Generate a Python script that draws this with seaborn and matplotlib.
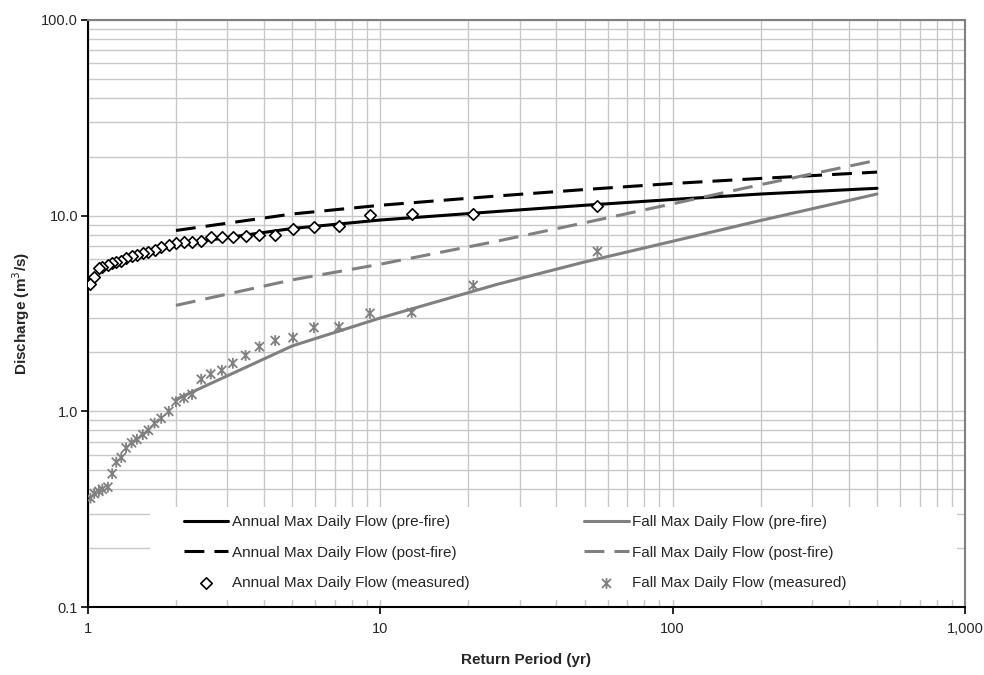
import matplotlib

matplotlib.use("Agg")
import matplotlib.pyplot as plt
import seaborn as sns
from matplotlib.path import Path
from matplotlib.patches import Rectangle
from matplotlib.ticker import FixedLocator, FixedFormatter, LogLocator, NullFormatter

# return periods of the fitted curves (yr)
rp = [2, 5, 10, 25, 50, 100, 200, 500]
annual_pre = [7.1, 8.6, 9.5, 10.5, 11.3, 12.1, 12.9, 13.8]
annual_post = [8.4, 10.2, 11.3, 12.6, 13.6, 14.6, 15.5, 16.7]
fall_pre = [1.15, 2.16, 3.0, 4.45, 5.8, 7.4, 9.45, 12.9]
fall_post = [3.48, 4.7, 5.65, 7.4, 9.2, 11.5, 14.4, 19.2]

# measured (plotting positions, yr)
meas_T = [55.3, 20.8, 12.8, 9.22, 7.22, 5.93, 5.03, 4.37, 3.86, 3.46, 3.13,
          2.87, 2.63, 2.44, 2.27, 2.13, 2.00, 1.89, 1.78, 1.69, 1.61, 1.54,
          1.47, 1.41, 1.35, 1.30, 1.25, 1.21, 1.17, 1.12, 1.09, 1.05, 1.02]
annual_meas = [11.2, 10.2, 10.2, 10.1, 8.9, 8.8, 8.5, 8.0, 8.0, 7.9, 7.8,
               7.75, 7.8, 7.4, 7.3, 7.3, 7.25, 7.1, 6.9, 6.7, 6.55, 6.45,
               6.3, 6.2, 6.05, 5.88, 5.77, 5.7, 5.6, 5.47, 5.4, 4.85, 4.47]
fall_meas = [6.56, 4.4, 3.2, 3.17, 2.7, 2.68, 2.38, 2.3, 2.14, 1.93, 1.76,
             1.62, 1.55, 1.46, 1.22, 1.17, 1.12, 1.0, 0.92, 0.87, 0.80, 0.76,
             0.72, 0.69, 0.65, 0.58, 0.55, 0.48, 0.41, 0.40, 0.39, 0.38, 0.36]

xticks = [1, 10, 100, 1000]
xticklabels = ["1", "10", "100", "1,000"]
yticks = [0.1, 1, 10, 100]
yticklabels = ["0.1", "1.0", "10.0", "100.0"]

BLACK = "#000000"
GRAY = "#808080"
FONT = ["Liberation Sans", "DejaVu Sans"]

sns.set_style("white")
plt.rcParams["font.family"] = FONT

# excel-style star: X plus a vertical bar
star = Path([(-1, -1), (1, 1), (-1, 1), (1, -1), (0, -1.2), (0, 1.2)],
            [Path.MOVETO, Path.LINETO, Path.MOVETO, Path.LINETO, Path.MOVETO, Path.LINETO])

fig, ax = plt.subplots(figsize=(9.84, 6.75), dpi=100)
fig.subplots_adjust(left=0.0894, right=0.9807, top=0.9704, bottom=0.1007)

dash = (0, (6.5, 3.3))
sns.lineplot(x=rp, y=annual_pre, ax=ax, color=BLACK, lw=2.2, label="Annual Max Daily Flow (pre-fire)", zorder=4)
sns.lineplot(x=rp, y=annual_post, ax=ax, color=BLACK, lw=2.2, linestyle=dash,
             label="Annual Max Daily Flow (post-fire)", zorder=4)
sns.scatterplot(x=meas_T, y=annual_meas, ax=ax, marker="D", s=34, facecolor="white",
                edgecolor=BLACK, linewidth=1.2, label="Annual Max Daily Flow (measured)", zorder=5)
sns.lineplot(x=rp, y=fall_pre, ax=ax, color=GRAY, lw=2.2, label="Fall Max Daily Flow (pre-fire)", zorder=4)
sns.lineplot(x=rp, y=fall_post, ax=ax, color=GRAY, lw=2.2, linestyle=dash,
             label="Fall Max Daily Flow (post-fire)", zorder=4)
sns.scatterplot(x=meas_T, y=fall_meas, ax=ax, marker=star, s=60, facecolor="none",
                edgecolor=GRAY, linewidth=1.3, label="Fall Max Daily Flow (measured)", zorder=5)

ax.set_xscale("log")
ax.set_yscale("log")
ax.set_xlim(1, 1000)
ax.set_ylim(0.1, 100)

ax.xaxis.set_major_locator(FixedLocator(xticks))
ax.xaxis.set_major_formatter(FixedFormatter(xticklabels))
ax.yaxis.set_major_locator(FixedLocator(yticks))
ax.yaxis.set_major_formatter(FixedFormatter(yticklabels))
for axis in (ax.xaxis, ax.yaxis):
    axis.set_minor_locator(LogLocator(base=10, subs=range(2, 10)))
    axis.set_minor_formatter(NullFormatter())

ax.set_axisbelow(True)
ax.grid(which="both", color="#c8c8c8", lw=1.0, zorder=0)
ax.tick_params(which="major", direction="out", length=5, width=1.2, color=BLACK,
               labelsize=10.5, bottom=True, left=True)
ax.tick_params(axis="y", which="major", pad=2)
ax.tick_params(axis="x", which="major", pad=6)
ax.tick_params(which="minor", length=0)

for side in ("left", "bottom"):
    ax.spines[side].set_color(BLACK)
    ax.spines[side].set_linewidth(1.5)
for side in ("top", "right"):
    ax.spines[side].set_color(GRAY)
    ax.spines[side].set_linewidth(1.5)

ax.set_xlabel("Return Period (yr)", fontsize=11, fontweight="bold", labelpad=12)
ax.set_ylabel("Discharge (m$^3$/s)", fontsize=11, fontweight="bold", labelpad=7)

# white box behind the legend, gridlines show around it
ax.add_patch(Rectangle((0.0707, 0.012), 0.92, 0.158, transform=ax.transAxes,
                       facecolor="white", edgecolor="none", zorder=1))

handles, labels = ax.get_legend_handles_labels()
ax.legend(handles, labels, ncol=2, loc="upper left", bbox_to_anchor=(0.1095, 0.157),
          frameon=False, handlelength=2.9, handletextpad=0.25,
          columnspacing=7.5, labelspacing=1.1, borderpad=0, borderaxespad=0,
          scatterpoints=1, prop={"family": FONT, "size": 11})

fig.savefig("out.png", dpi=100)
